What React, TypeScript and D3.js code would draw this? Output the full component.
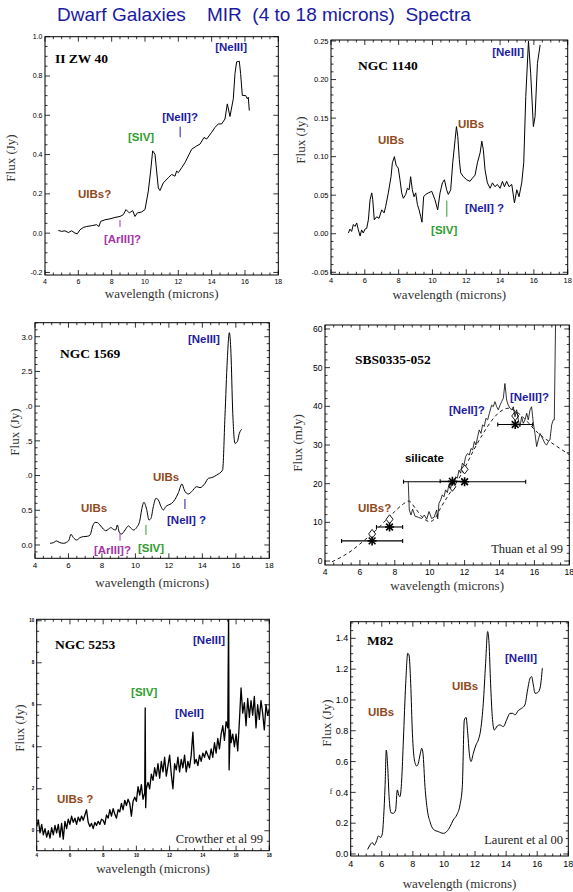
import React from "react";
import * as d3 from "d3";

type Pt = [number, number];

const title = "Dwarf Galaxies    MIR  (4 to 18 microns)  Spectra";
const xTickValues = [4, 6, 8, 10, 12, 14, 16, 18];

// II ZW 40
const zw40Spectrum: Pt[] = [
  [4.8, 0.014], [5.0, 0.009], [5.2, 0.012], [5.4, 0.003], [5.6, 0.012], [5.8, 0.0], [5.94, -0.003],
  [6.1, 0.017], [6.3, 0.029], [6.5, 0.034], [6.8, 0.038], [7.1, 0.043], [7.24, 0.034], [7.34, 0.06],
  [7.6, 0.068], [7.9, 0.073], [8.2, 0.08], [8.5, 0.085], [8.7, 0.094], [8.86, 0.12], [9.06, 0.103],
  [9.26, 0.115], [9.4, 0.085], [9.54, 0.103], [9.8, 0.108], [10.0, 0.12], [10.2, 0.214], [10.34, 0.316],
  [10.46, 0.419], [10.6, 0.402], [10.7, 0.316], [10.8, 0.23], [10.9, 0.217], [11.1, 0.256], [11.4, 0.282],
  [11.6, 0.299], [11.8, 0.29], [11.9, 0.316], [12.0, 0.308], [12.2, 0.333], [12.4, 0.359], [12.6, 0.393],
  [12.8, 0.427], [13.1, 0.444], [13.3, 0.453], [13.54, 0.487], [13.7, 0.479], [14.0, 0.513], [14.2, 0.538],
  [14.4, 0.556], [14.6, 0.556], [14.8, 0.581], [14.94, 0.658], [15.1, 0.594], [15.3, 0.684], [15.4, 0.812],
  [15.5, 0.872], [15.66, 0.875], [15.74, 0.812], [15.84, 0.701], [16.04, 0.701], [16.14, 0.684],
  [16.2, 0.692], [16.26, 0.624],
];
const zw40YTicks = [-0.2, 0.0, 0.2, 0.4, 0.6, 0.8, 1.0];
const zw40YLabels = ["-0.2", "0.0", "0.2", "0.4", "0.6", "0.8", "1.0"];

// NGC 1140
const ngc1140Spectrum: Pt[] = [
  [5.03, 0.001], [5.12, 0.006], [5.22, 0.003], [5.32, 0.012], [5.42, 0.0095], [5.52, 0.014], [5.62, 0.005],
  [5.72, -0.003], [5.81, 0.005], [5.91, 0.001], [6.01, 0.006], [6.11, 0.007], [6.21, 0.018], [6.31, 0.044],
  [6.41, 0.053], [6.47, 0.044], [6.56, 0.018], [6.7, 0.022], [6.84, 0.02], [7.0, 0.031], [7.14, 0.027],
  [7.23, 0.035], [7.39, 0.053], [7.55, 0.074], [7.63, 0.092], [7.75, 0.1], [7.85, 0.089], [7.98, 0.085],
  [8.08, 0.07], [8.18, 0.053], [8.28, 0.046], [8.42, 0.051], [8.52, 0.059], [8.62, 0.057], [8.71, 0.074],
  [8.81, 0.057], [8.91, 0.048], [9.01, 0.053], [9.11, 0.038], [9.21, 0.031], [9.31, 0.022], [9.38, 0.015],
  [9.48, 0.048], [9.6, 0.051], [9.76, 0.053], [9.96, 0.055], [10.15, 0.044], [10.31, 0.031], [10.45, 0.053],
  [10.59, 0.066], [10.71, 0.07], [10.84, 0.057], [10.94, 0.051], [11.08, 0.057], [11.2, 0.092], [11.34, 0.122],
  [11.42, 0.139], [11.5, 0.126], [11.59, 0.096], [11.67, 0.079], [11.83, 0.074], [12.03, 0.07], [12.22, 0.068],
  [12.36, 0.072], [12.52, 0.076], [12.66, 0.092], [12.82, 0.105], [12.92, 0.12], [13.01, 0.109], [13.11, 0.083],
  [13.25, 0.066], [13.41, 0.059], [13.55, 0.066], [13.7, 0.061], [13.84, 0.064], [14.0, 0.059], [14.14, 0.068],
  [14.26, 0.061], [14.39, 0.068], [14.53, 0.061], [14.69, 0.064], [14.85, 0.04], [14.99, 0.057], [15.12, 0.048],
  [15.28, 0.066], [15.4, 0.092], [15.52, 0.178], [15.68, 0.25], [15.81, 0.208], [15.97, 0.139], [16.07, 0.152],
  [16.21, 0.221], [16.37, 0.245],
];
const ngc1140YTicks = [-0.05, 0.0, 0.05, 0.1, 0.15, 0.2, 0.25];
const ngc1140YLabels = ["-0.05", "0.00", "0.05", "0.10", "0.15", "0.20", "0.25"];

// NGC 1569
const ngc1569Spectrum: Pt[] = [
  [4.9, 0.024], [5.1, 0.034], [5.29, 0.058], [5.45, 0.038], [5.69, 0.024], [5.89, 0.038], [6.03, 0.072],
  [6.15, 0.154], [6.29, 0.106], [6.49, 0.072], [6.69, 0.106], [6.89, 0.12], [7.13, 0.125], [7.29, 0.144],
  [7.45, 0.274], [7.59, 0.326], [7.73, 0.322], [7.88, 0.288], [8.08, 0.23], [8.24, 0.206], [8.38, 0.226],
  [8.54, 0.25], [8.68, 0.226], [8.82, 0.216], [8.92, 0.288], [9.04, 0.178], [9.18, 0.158], [9.38, 0.216],
  [9.58, 0.274], [9.74, 0.24], [9.88, 0.216], [10.08, 0.254], [10.27, 0.36], [10.37, 0.504], [10.51, 0.614],
  [10.67, 0.514], [10.81, 0.36], [10.93, 0.384], [11.07, 0.552], [11.23, 0.672], [11.37, 0.648], [11.53, 0.552],
  [11.67, 0.504], [11.81, 0.552], [11.97, 0.576], [12.17, 0.6], [12.37, 0.658], [12.57, 0.754], [12.78, 0.878],
  [12.92, 0.792], [13.16, 0.734], [13.36, 0.768], [13.66, 0.84], [13.86, 0.826], [14.16, 0.888], [14.36, 0.96],
  [14.56, 0.97], [14.86, 1.008], [15.21, 1.08], [15.35, 1.848], [15.49, 2.664], [15.61, 3.058], [15.71, 2.76],
  [15.81, 1.944], [15.95, 1.464], [16.09, 1.488], [16.21, 1.608], [16.35, 1.666],
];
const ngc1569YTicks = [0.0, 0.5, 1.0, 1.5, 2.0, 2.5, 3.0];
const ngc1569YLabels = ["0.0", "0.5", ".0", ".5", ".0", "2.5", "3.0"];

// SBS0335-052
const sbsSpectrum: Pt[] = [
  [8.77, 20.5], [8.83, 13.2], [8.93, 11.9], [9.02, 13.4], [9.16, 11.6], [9.35, 11.3], [9.54, 11.0], [9.69, 11.9],
  [9.83, 10.8], [9.96, 12.8], [10.11, 11.0], [10.25, 11.3], [10.4, 13.2], [10.46, 10.9], [10.53, 14.9],
  [10.63, 15.8], [10.72, 17.1], [10.82, 16.6], [10.91, 18.4], [11.01, 17.7], [11.1, 19.7], [11.2, 18.8],
  [11.3, 20.9], [11.39, 20.1], [11.49, 21.8], [11.58, 21.4], [11.68, 23.5], [11.77, 22.7], [11.87, 25.3],
  [11.96, 24.8], [12.06, 27.0], [12.17, 27.8], [12.27, 27.4], [12.37, 29.1], [12.46, 28.7], [12.56, 30.9],
  [12.65, 30.0], [12.75, 32.2], [12.84, 33.9], [12.94, 33.0], [13.03, 35.2], [13.13, 34.8], [13.22, 36.9],
  [13.32, 36.5], [13.42, 38.2], [13.55, 40.3], [13.64, 39.9], [13.74, 41.2], [13.84, 39.9], [13.93, 39.1],
  [14.03, 40.3], [14.12, 41.2], [14.22, 42.1], [14.31, 45.9], [14.41, 41.6], [14.5, 40.3], [14.6, 39.5],
  [14.7, 39.1], [14.79, 39.9], [14.89, 37.3], [14.98, 39.1], [15.08, 36.5], [15.17, 34.7], [15.27, 37.3],
  [15.36, 35.6], [15.46, 36.5], [15.56, 38.2], [15.65, 36.5], [15.75, 39.1], [15.84, 39.9], [15.94, 35.6],
  [16.03, 33.0], [16.13, 29.6], [16.22, 31.3], [16.32, 33.0], [16.41, 32.2], [16.51, 31.3], [16.6, 30.4],
  [16.7, 30.0], [16.8, 30.9], [16.89, 31.3], [16.99, 35.2], [17.08, 36.5], [17.14, 36.5], [17.22, 64],
];
const sbsModel: Pt[] = [
  [4.4, -0.2], [5.0, 1.2], [5.5, 2.6], [6.0, 4.4], [6.5, 6.3], [7.0, 8.3], [7.5, 10.6], [8.0, 12.8],
  [8.5, 14.8], [8.8, 15.5], [9.2, 13.5], [9.6, 11.2], [10.0, 10.2], [10.3, 11.0], [10.6, 13.5], [11.0, 16.5],
  [11.5, 20.0], [12.0, 24.0], [12.5, 28.5], [13.0, 32.5], [13.5, 36.0], [14.0, 38.5], [14.5, 39.5],
  [15.0, 38.5], [15.5, 36.5], [16.0, 34.0], [16.5, 32.0], [17.0, 30.5], [17.5, 29.0], [18.0, 27.5],
];
const sbsPhotX = [6.7, 7.7, 11.3, 12.0, 14.9];
const sbsPhotY = [5.2, 8.8, 20.6, 20.5, 35.3];
const sbsPhotLo = [4.95, 6.95, 10.6, 8.5, 13.9];
const sbsPhotHi = [8.45, 8.45, 12.0, 15.5, 15.9];
const sbsDiamonds: Pt[] = [[6.7, 7.0], [7.7, 10.8], [11.3, 19.2], [12.0, 23.7], [14.9, 37.5]];
const sbsYTicks = [0, 10, 20, 30, 40, 50, 60];
const sbsYLabels = ["0", "10", "20", "30", "40", "50", "60"];

// NGC 5253
const ngc5253Spectrum: Pt[] = [
  [4.0, 0.2], [4.1, 0.5], [4.2, -0.1], [4.3, 0.3], [4.4, -0.2], [4.5, 0.1], [4.6, -0.3], [4.7, 0.0], [4.8, -0.35], [4.9, 0.15],
  [5.0, -0.2], [5.1, 0.25], [5.2, -0.1], [5.3, 0.3], [5.4, -0.3], [5.5, 0.35], [5.6, -0.4], [5.7, 0.45], [5.8, 0.1], [5.9, 0.55],
  [6.0, 0.3], [6.1, 0.7], [6.2, 0.4], [6.3, 0.6], [6.4, 0.3], [6.5, 0.65], [6.6, 0.45], [6.7, 0.7], [6.8, 0.5], [6.9, 0.75],
  [7.0, 1.0], [7.1, 0.4], [7.2, 0.2], [7.3, 0.35], [7.4, 0.1], [7.5, 0.4], [7.6, 0.25], [7.7, 0.45], [7.8, 0.3], [7.9, 0.55],
  [8.0, 0.5], [8.1, 0.3], [8.2, 0.75], [8.3, 0.6], [8.4, 1.0], [8.5, 0.7], [8.6, 1.05], [8.7, 0.8], [8.8, 0.6], [8.9, 1.0],
  [9.0, 0.9], [9.1, 1.3], [9.2, 1.0], [9.3, 1.45], [9.4, 1.2], [9.5, 1.5], [9.6, 1.3], [9.7, 0.7], [9.8, 1.4], [9.9, 1.6],
  [10.0, 1.4], [10.1, 2.1], [10.2, 1.7], [10.3, 2.2], [10.4, 1.5], [10.5, 1.8], [10.53, 5.85], [10.56, 1.1],
  [10.6, 2.0], [10.7, 2.3], [10.8, 2.0], [10.9, 2.7],
  [11.0, 2.4], [11.1, 3.0], [11.2, 2.6], [11.3, 3.2], [11.4, 2.5], [11.5, 3.3], [11.6, 2.8], [11.7, 3.5], [11.8, 2.6], [11.9, 3.1],
  [12.0, 3.6], [12.1, 2.7], [12.2, 2.0], [12.3, 3.2], [12.4, 2.9], [12.5, 3.5], [12.6, 2.8], [12.7, 3.4], [12.8, 3.0], [12.9, 3.6],
  [13.0, 2.8], [13.1, 3.3], [13.2, 3.0], [13.3, 3.6], [13.4, 4.7], [13.5, 3.2], [13.6, 3.4], [13.7, 3.1], [13.8, 3.6], [13.9, 3.3],
  [14.0, 3.7], [14.1, 3.5], [14.2, 3.8], [14.3, 3.6], [14.4, 3.4], [14.5, 3.9], [14.6, 3.5], [14.7, 4.2], [14.8, 3.7], [14.9, 4.4],
  [15.0, 3.9], [15.1, 4.6], [15.2, 5.0], [15.3, 4.3], [15.4, 5.2], [15.5, 4.9], [15.55, 10.5], [15.58, 2.9],
  [15.65, 4.8], [15.7, 4.2], [15.8, 4.6], [15.9, 4.0],
  [16.0, 4.6], [16.1, 3.8], [16.2, 5.2], [16.3, 6.8], [16.4, 5.6], [16.5, 6.1], [16.6, 5.0], [16.7, 6.3], [16.8, 5.4], [16.9, 6.2],
  [17.0, 5.5], [17.1, 6.4], [17.2, 4.9], [17.3, 6.0], [17.4, 5.3], [17.5, 6.2], [17.6, 5.6], [17.7, 4.8], [17.8, 6.0], [17.9, 5.5],
  [18.0, 5.8],
];
const ngc5253YTicks = [0, 2, 4, 6, 8, 10];
const ngc5253YLabels = ["0", "2", "4", "6", "8", "10"];

// M82
const m82Spectrum: Pt[] = [
  [5.09, 0.03], [5.24, 0.058], [5.39, 0.074], [5.52, 0.058], [5.67, 0.087], [5.78, 0.117], [5.93, 0.108],
  [6.04, 0.134], [6.12, 0.242], [6.21, 0.437], [6.29, 0.675], [6.38, 0.567], [6.47, 0.372], [6.59, 0.268],
  [6.74, 0.264], [6.89, 0.286], [7.0, 0.416], [7.09, 0.383], [7.17, 0.372], [7.28, 0.48], [7.39, 0.74],
  [7.54, 1.108], [7.67, 1.303], [7.75, 1.292], [7.86, 1.108], [7.97, 0.784], [8.1, 0.61], [8.25, 0.571],
  [8.35, 0.589], [8.46, 0.643], [8.57, 0.686], [8.65, 0.654], [8.78, 0.437], [8.93, 0.286], [9.1, 0.21],
  [9.32, 0.16], [9.64, 0.145], [9.96, 0.134], [10.17, 0.145], [10.39, 0.177], [10.6, 0.221], [10.82, 0.253],
  [11.03, 0.318], [11.18, 0.437], [11.31, 0.87], [11.42, 0.887], [11.53, 0.784], [11.63, 0.654], [11.74, 0.6],
  [11.89, 0.654], [12.06, 0.708], [12.21, 0.74], [12.36, 0.805], [12.53, 0.978], [12.68, 1.238], [12.81, 1.444],
  [12.9, 1.368], [13.0, 1.108], [13.11, 0.892], [13.24, 0.805], [13.43, 0.831], [13.6, 0.838], [13.82, 0.827],
  [14.03, 0.87], [14.25, 0.913], [14.42, 0.913], [14.57, 0.903], [14.78, 0.931], [15.0, 0.946], [15.21, 0.968],
  [15.38, 1.065], [15.54, 1.141], [15.64, 1.152], [15.75, 1.097], [15.86, 1.043], [16.03, 1.048], [16.18, 1.076],
  [16.33, 1.206],
];
const m82YTicks = [0.0, 0.2, 0.4, 0.6, 0.8, 1.0, 1.2, 1.4];
const m82YLabels = ["0.0", "0.2", "0.4", "0.6", "0.8", "1.0", "1.2", "1.4"];

const BLUE = "#1e1e9c";
const GREEN = "#2e9e2e";
const BROWN = "#8f4a1c";
const MAGENTA = "#a535a5";
const SERIF = "'Liberation Serif', 'Times New Roman', serif";
const SANS = "'Liberation Sans', Arial, Helvetica, sans-serif";

type Label = { text: string; x: number; y: number; color: string; kind: "name" | "line" | "credit" };
type Mark = { x: number; y0: number; y1: number; color: string };

type PanelCfg = {
  box: [number, number, number, number];
  yDomain: [number, number];
  yTicks: number[];
  yLabels: string[];
  yMinor: number;
  tickFont: number;
  tickBold?: boolean;
  yTitle: string;
  yTitleX: number;
  yTitleY: number;
  xTitleY: number;
  series: Pt[];
  lineWidth: number;
  smooth?: boolean;
  labels: Label[];
  marks: Mark[];
  extra?: "sbs";
  stray?: { text: string; x: number; y: number };
};

const panels: PanelCfg[] = [
  {
    box: [45, 36.7, 278.3, 275], yDomain: [-0.213, 1.0], yTicks: zw40YTicks, yLabels: zw40YLabels, yMinor: 0.05,
    tickFont: 7, yTitle: "Flux (Jy)", yTitleX: 15, yTitleY: 158, xTitleY: 298, series: zw40Spectrum, lineWidth: 1,
    labels: [
      { text: "II ZW 40", x: 4.6, y: 0.866, color: "#000", kind: "name" },
      { text: "[NeIII]", x: 14.21, y: 0.929, color: BLUE, kind: "line" },
      { text: "[NeII]?", x: 11.03, y: 0.573, color: BLUE, kind: "line" },
      { text: "[SIV]", x: 8.98, y: 0.471, color: GREEN, kind: "line" },
      { text: "UIBs?", x: 5.98, y: 0.181, color: BROWN, kind: "line" },
      { text: "[ArIII]?", x: 7.54, y: -0.051, color: MAGENTA, kind: "line" },
    ],
    marks: [
      { x: 12.11, y0: 0.488, y1: 0.542, color: BLUE },
      { x: 8.5, y0: 0.032, y1: 0.067, color: MAGENTA },
    ],
  },
  {
    box: [331, 40, 567.7, 274.3], yDomain: [-0.0526, 0.2513], yTicks: ngc1140YTicks, yLabels: ngc1140YLabels, yMinor: 0.01,
    tickFont: 7.5, yTitle: "Flux (Jy)", yTitleX: 305, yTitleY: 140, xTitleY: 299, series: ngc1140Spectrum, lineWidth: 1,
    labels: [
      { text: "NGC 1140", x: 5.6, y: 0.212, color: "#000", kind: "name" },
      { text: "[NeIII]", x: 13.53, y: 0.231, color: BLUE, kind: "line" },
      { text: "UIBs", x: 6.78, y: 0.117, color: BROWN, kind: "line" },
      { text: "UIBs", x: 11.51, y: 0.137, color: BROWN, kind: "line" },
      { text: "[SIV]", x: 9.92, y: 0.0, color: GREEN, kind: "line" },
      { text: "[NeII] ?", x: 11.93, y: 0.028, color: BLUE, kind: "line" },
    ],
    marks: [{ x: 10.85, y0: 0.022, y1: 0.043, color: GREEN }],
  },
  {
    box: [35, 322.7, 269.3, 558.3], yDomain: [-0.192, 3.202], yTicks: ngc1569YTicks, yLabels: ngc1569YLabels, yMinor: 0.1,
    tickFont: 8, yTitle: "Flux (Jy)", yTitleX: 19, yTitleY: 432, xTitleY: 587, series: ngc1569Spectrum, lineWidth: 1,
    smooth: true,
    labels: [
      { text: "NGC 1569", x: 5.49, y: 2.69, color: "#000", kind: "name" },
      { text: "[NeIII]", x: 13.14, y: 2.91, color: BLUE, kind: "line" },
      { text: "UIBs", x: 11.05, y: 0.917, color: BROWN, kind: "line" },
      { text: "UIBs", x: 6.75, y: 0.471, color: BROWN, kind: "line" },
      { text: "[NeII] ?", x: 11.89, y: 0.298, color: BLUE, kind: "line" },
      { text: "[SIV]", x: 10.15, y: -0.1, color: GREEN, kind: "line" },
      { text: "[ArIII]?", x: 7.52, y: -0.134, color: MAGENTA, kind: "line" },
    ],
    marks: [
      { x: 12.96, y0: 0.519, y1: 0.663, color: BLUE },
      { x: 10.63, y0: 0.144, y1: 0.288, color: GREEN },
      { x: 9.08, y0: 0.062, y1: 0.177, color: MAGENTA },
    ],
  },
  {
    box: [325, 325, 569.3, 565], yDomain: [-1.03, 61.03], yTicks: sbsYTicks, yLabels: sbsYLabels, yMinor: 2,
    tickFont: 8.5, yTitle: "Flux (mJy)", yTitleX: 302, yTitleY: 443, xTitleY: 590, series: sbsSpectrum, lineWidth: 0.8,
    extra: "sbs",
    labels: [
      { text: "SBS0335-052", x: 5.72, y: 50.9, color: "#000", kind: "name" },
      { text: "[NeIII]?", x: 14.6, y: 41.4, color: BLUE, kind: "line" },
      { text: "[NeII]?", x: 11.1, y: 38.1, color: BLUE, kind: "line" },
      { text: "silicate", x: 8.58, y: 25.7, color: "#000", kind: "line" },
      { text: "UIBs?", x: 5.89, y: 12.7, color: BROWN, kind: "line" },
      { text: "Thuan et al 99", x: 17.64, y: 2.0, color: "#222", kind: "credit" },
    ],
    marks: [],
  },
  {
    box: [36.7, 619.3, 269.3, 850.7], yDomain: [-0.95, 10.07], yTicks: ngc5253YTicks, yLabels: ngc5253YLabels, yMinor: 0.5,
    tickFont: 4.5, tickBold: true, yTitle: "Flux (Jy)", yTitleX: 24, yTitleY: 728, xTitleY: 873, series: ngc5253Spectrum,
    lineWidth: 1.3,
    labels: [
      { text: "NGC 5253", x: 5.1, y: 8.65, color: "#000", kind: "name" },
      { text: "[NeIII]", x: 13.41, y: 8.89, color: BLUE, kind: "line" },
      { text: "[SIV]", x: 9.68, y: 6.41, color: GREEN, kind: "line" },
      { text: "[NeII]", x: 12.33, y: 5.43, color: BLUE, kind: "line" },
      { text: "UIBs ?", x: 5.22, y: 1.33, color: BROWN, kind: "line" },
      { text: "Crowther et al 99", x: 17.62, y: -0.57, color: "#222", kind: "credit" },
    ],
    marks: [],
  },
  {
    box: [350.7, 621.7, 568.3, 856], yDomain: [-0.013, 1.508], yTicks: m82YTicks, yLabels: m82YLabels, yMinor: 0.05,
    tickFont: 9, yTitle: "Flux (Jy)", yTitleX: 331, yTitleY: 723, xTitleY: 888, series: m82Spectrum, lineWidth: 1,
    smooth: true,
    labels: [
      { text: "M82", x: 5.05, y: 1.358, color: "#000", kind: "name" },
      { text: "[NeIII]", x: 13.93, y: 1.244, color: BLUE, kind: "line" },
      { text: "UIBs", x: 10.52, y: 1.063, color: BROWN, kind: "line" },
      { text: "UIBs", x: 5.11, y: 0.894, color: BROWN, kind: "line" },
      { text: "Laurent et al 00", x: 17.66, y: 0.063, color: "#222", kind: "credit" },
    ],
    marks: [],
    stray: { text: "f", x: 331, y: 794 },
  },
];

function stepValues(lo: number, hi: number, step: number) {
  const out: number[] = [];
  for (let k = Math.ceil(lo / step - 1e-6); k <= Math.floor(hi / step + 1e-6); k++) out.push(+(k * step).toFixed(6));
  return out;
}

function Panel({ p, id }: { p: PanelCfg; id: number }) {
  const [x0, y0, x1, y1] = p.box;
  const x = d3.scaleLinear().domain([4, 18]).range([x0, x1]);
  const y = d3.scaleLinear().domain(p.yDomain).range([y1, y0]);
  const line = d3
    .line<Pt>()
    .x((d) => x(d[0]))
    .y((d) => y(d[1]));
  const xMinor = stepValues(4, 18, 0.5);
  const yMinor = stepValues(p.yDomain[0], p.yDomain[1], p.yMinor);
  const big = 5;
  const small = 2.5;
  const clipId = `clip${id}`;

  return (
    <g>
      <defs>
        <clipPath id={clipId}>
          <rect x={x0} y={y0} width={x1 - x0} height={y1 - y0} />
        </clipPath>
      </defs>
      <rect x={x0} y={y0} width={x1 - x0} height={y1 - y0} fill="none" stroke="#000" strokeWidth={1} />
      <g stroke="#000" strokeWidth={0.8}>
        {xMinor.map((v) => {
          const len = xTickValues.includes(v) ? big : small;
          return (
            <g key={"x" + v}>
              <line x1={x(v)} x2={x(v)} y1={y1} y2={y1 - len} />
              <line x1={x(v)} x2={x(v)} y1={y0} y2={y0 + len} />
            </g>
          );
        })}
        {yMinor.map((v) => {
          const len = p.yTicks.some((t) => Math.abs(t - v) < 1e-6) ? big : small;
          return (
            <g key={"y" + v}>
              <line x1={x0} x2={x0 + len} y1={y(v)} y2={y(v)} />
              <line x1={x1} x2={x1 - len} y1={y(v)} y2={y(v)} />
            </g>
          );
        })}
      </g>
      <g fontFamily={SANS} fontSize={p.tickFont} fontWeight={p.tickBold ? "bold" : "normal"} fill="#000">
        {xTickValues.map((v) => (
          <text key={v} x={x(v)} y={y1 + p.tickFont + 1.5} textAnchor="middle">
            {v}
          </text>
        ))}
        {p.yTicks.map((v, i) => (
          <text key={v} x={x0 - 2.5} y={y(v)} dy="0.35em" textAnchor="end">
            {p.yLabels[i]}
          </text>
        ))}
      </g>
      <text x={(x0 + x1) / 2} y={p.xTitleY} textAnchor="middle" fontFamily={SERIF} fontSize={13} fill="#333">
        wavelength (microns)
      </text>
      <text
        transform={`translate(${p.yTitleX},${p.yTitleY}) rotate(-90)`}
        textAnchor="middle"
        fontFamily={SERIF}
        fontSize={13}
        fill="#333"
      >
        {p.yTitle}
      </text>
      {p.stray && (
        <text x={p.stray.x} y={p.stray.y} fontFamily={SERIF} fontSize={9} fill="#333" textAnchor="middle">
          {p.stray.text}
        </text>
      )}
      <g clipPath={`url(#${clipId})`}>
        {p.extra === "sbs" && (
          <g>
            <path
              d={line.curve(d3.curveMonotoneX)(sbsModel) ?? ""}
              fill="none"
              stroke="#000"
              strokeWidth={0.9}
              strokeDasharray="3.5,3"
            />
            {sbsPhotX.map((px, i) => (
              <g key={"e" + i} stroke="#000" strokeWidth={1.1}>
                <line x1={x(sbsPhotLo[i])} x2={x(sbsPhotHi[i])} y1={y(sbsPhotY[i])} y2={y(sbsPhotY[i])} />
                <line x1={x(sbsPhotLo[i])} x2={x(sbsPhotLo[i])} y1={y(sbsPhotY[i]) - 2} y2={y(sbsPhotY[i]) + 2} />
                <line x1={x(sbsPhotHi[i])} x2={x(sbsPhotHi[i])} y1={y(sbsPhotY[i]) - 2} y2={y(sbsPhotY[i]) + 2} />
              </g>
            ))}
            {sbsDiamonds.map((d, i) => {
              const cx = x(d[0]);
              const cy = y(d[1]);
              return (
                <path
                  key={"d" + i}
                  d={`M${cx},${cy - 4.5}L${cx + 3.5},${cy}L${cx},${cy + 4.5}L${cx - 3.5},${cy}Z`}
                  fill="#fff"
                  stroke="#000"
                  strokeWidth={0.9}
                />
              );
            })}
            {sbsPhotX.map((px, i) => {
              const cx = x(px);
              const cy = y(sbsPhotY[i]);
              const r = 4.5;
              return (
                <g key={"s" + i} stroke="#000" strokeWidth={1.6}>
                  <line x1={cx - r} x2={cx + r} y1={cy} y2={cy} />
                  <line x1={cx} x2={cx} y1={cy - r} y2={cy + r} />
                  <line x1={cx - r * 0.75} x2={cx + r * 0.75} y1={cy - r * 0.75} y2={cy + r * 0.75} />
                  <line x1={cx - r * 0.75} x2={cx + r * 0.75} y1={cy + r * 0.75} y2={cy - r * 0.75} />
                </g>
              );
            })}
          </g>
        )}
        <path
          d={line.curve(p.smooth ? d3.curveMonotoneX : d3.curveLinear)(p.series) ?? ""}
          fill="none"
          stroke="#000"
          strokeWidth={p.lineWidth}
          strokeLinejoin="round"
        />
      </g>
      {p.marks.map((m, i) => (
        <line key={"m" + i} x1={x(m.x)} x2={x(m.x)} y1={y(m.y0)} y2={y(m.y1)} stroke={m.color} strokeWidth={1} />
      ))}
      {p.labels.map((l, i) => {
        if (l.kind === "name")
          return (
            <text key={i} x={x(l.x)} y={y(l.y)} fontFamily={SERIF} fontWeight="bold" fontSize={13.5} fill={l.color}>
              {l.text}
            </text>
          );
        if (l.kind === "credit")
          return (
            <text key={i} x={x(l.x)} y={y(l.y)} fontFamily={SERIF} fontSize={12.5} fill={l.color} textAnchor="end">
              {l.text}
            </text>
          );
        return (
          <text key={i} x={x(l.x)} y={y(l.y)} fontFamily={SANS} fontWeight="bold" fontSize={11.5} fill={l.color}>
            {l.text}
          </text>
        );
      })}
    </g>
  );
}

export default function App() {
  return (
    <div style={{ position: "absolute", left: 0, top: 0 }}>
      <svg width={573} height={892} style={{ display: "block", background: "#fff" }}>
        <rect width={573} height={892} fill="#fff" />
        <text x={57} y={21} fontFamily={SANS} fontSize={19} fill="#1a1aa0" style={{ whiteSpace: "pre" }}>
          {title}
        </text>
        {panels.map((p, i) => (
          <Panel key={i} p={p} id={i} />
        ))}
      </svg>
    </div>
  );
}
